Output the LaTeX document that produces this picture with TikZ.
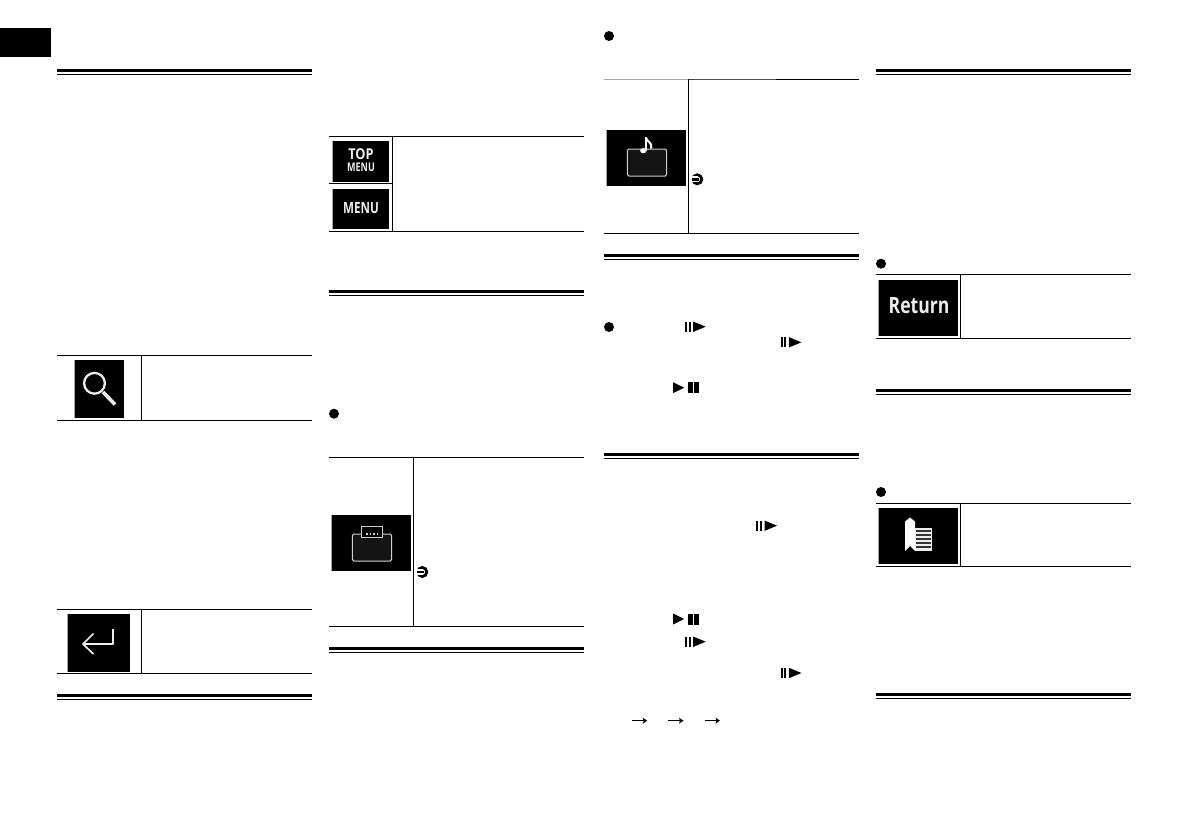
\documentclass[tikz,border=0pt]{standalone}
\usepackage{fontspec}
\setmainfont{Open Sans}
\definecolor{iconline}{gray}{0.82}
\definecolor{iconfill}{gray}{0.08}
\definecolor{icontext}{gray}{0.93}
\tikzset{
  thinrule/.style={line width=1pt,black},
  iconbg/.style={fill=black,draw=none},
  iconedge/.style={draw=gray!70,line width=0.6pt},
  icontxt/.style={text=icontext,inner sep=0pt},
  trayline/.style={draw=iconline,line width=1pt,rounded corners=1.6pt,fill=iconfill},
}
\newcommand{\DoubleRule}[3]{% x1 x2 y(top of thick rule)
  \fill (#1,#3) rectangle (#2,#3+3.2);
  \fill (#1,#3+5) rectangle (#2,#3+6);
}
\newcommand{\IconBox}[4]{% x1 y1 x2 y2
  \fill[iconbg] (#1,#2) rectangle (#3,#4);
  \draw[iconedge] (#1,#2) -- (#1,#4);
}
\newcommand{\Dot}[2]{\fill (#1,#2) circle (5);}
\newcommand{\SkipMark}[2]{% left x, centre y
  \fill (#1,#2-5) rectangle (#1+1.9,#2+5);
  \fill (#1+3.6,#2-5) rectangle (#1+5.6,#2+5);
  \fill (#1+8.2,#2-5.2) -- (#1+20.7,#2) -- (#1+8.2,#2+5.2) -- cycle;
}
\newcommand{\PlayPause}[2]{%
  \fill (#1,#2-5.5) -- (#1+11.2,#2) -- (#1,#2+5.5) -- cycle;
  \fill (#1+15,#2-5.5) rectangle (#1+19.8,#2+5.5);
  \fill (#1+21.2,#2-5.5) rectangle (#1+26,#2+5.5);
}
\newcommand{\SeeMark}[2]{%
  \draw[line width=2.8pt] (#1,#2) circle (4.5);
  \fill[white] (#1-7,#2-2.9) rectangle (#1+0.6,#2+2.9);
  \fill (#1-5.8,#2-1.3) rectangle (#1+1.8,#2+1.3);
}
\newcommand{\SmallArrow}[2]{%
  \draw[line width=1.1pt] (#1,#2) -- (#1+12.5,#2);
  \fill (#1+15.5,#2) -- (#1+11,#2-3) -- (#1+12,#2) -- (#1+11,#2+3) -- cycle;
}
\begin{document}
\begin{tikzpicture}[x=1pt,y=-1pt]
\useasboundingbox (0,0) rectangle (1191,839);
\fill[white] (0,0) rectangle (1191,839);
% page tab
\fill (0,28) rectangle (51,57);
% heading rules
\DoubleRule{57}{312}{69}
\DoubleRule{57}{312}{694}
\DoubleRule{329}{584}{290}
\DoubleRule{329}{584}{647}
\DoubleRule{604}{859}{254}
\DoubleRule{604}{859}{453}
\DoubleRule{876}{1131}{69}
\DoubleRule{876}{1131}{389}
\DoubleRule{876}{1131}{693}
% bullets
\Dot{334}{413.7}
\Dot{609}{36}
\Dot{609}{327}
\Dot{881}{263.7}
\Dot{881}{492}

% table: search
\draw[thinrule] (57,355.3) -- (312,355.3) (57,420.3) -- (312,420.3) (141.3,355.3) -- (141.3,420.3);
\IconBox{74.3}{360}{124}{417.7}
\draw[icontext,line width=2.3pt] (94.5,383.3) circle (10.4);
\draw[icontext,line width=3.6pt] (103,392) -- (115,404.5);

% table: enter
\draw[thinrule] (57,609.3) -- (312,609.3) (57,673) -- (312,673) (141.3,609.3) -- (141.3,673);
\IconBox{67.7}{614}{130.3}{672}
\draw[icontext,line width=1.7pt,line join=round] (113.3,629.3) -- (113.3,644) -- (83,644);
\draw[icontext,line width=1.7pt,line join=round] (93.5,633.5) -- (83,644) -- (93.5,654);

% table: top menu / menu
\draw[thinrule] (329,136.3) -- (584,136.3) (329,231.3) -- (584,231.3) (392.3,136.3) -- (392.3,231.3) (329,183.3) -- (392.3,183.3);
\IconBox{332.3}{141}{389}{182}
\IconBox{332.3}{189}{389}{229}
\node[icontxt,font=\fontsize{15}{16}\selectfont\bfseries,xscale=0.85] (topw) at (361,154) {TOP};
\node[icontxt,font=\fontsize{12}{13}\selectfont\bfseries,xscale=0.75] (menus) at (361,167.7) {MENU};
\node[icontxt,font=\fontsize{15.5}{16}\selectfont\bfseries,xscale=0.75] (menub) at (361,207.7) {MENU};

% table: tray icon
\draw[thinrule] (329,457.3) -- (584,457.3) (329,626.3) -- (584,626.3) (413.3,457.3) -- (413.3,626.3);
\IconBox{331.7}{515}{411}{571}
\draw[trayline] (352.3,534) rectangle (391.7,561);
\draw[draw=iconline,line width=1pt,fill=black] (361,526) rectangle (382.3,537.7);
\foreach \d in {367,370.5,374,377.5} \fill[iconline] (\d-.7,533.2) rectangle (\d+.7,534.8);
\SeeMark{422.3}{572}

% table: music icon
\draw[line width=1pt,black!35] (604,79.3) -- (689,79.3);
\draw[line width=1pt,black!70] (689,79.3) -- (776,79.3);
\draw[thinrule] (776,79.3) -- (859,79.3) (604,233.3) -- (859,233.3) (688.3,79.3) -- (688.3,233.3);
\IconBox{606.7}{130}{686}{186}
\draw[trayline] (627.3,149) rectangle (666.7,176);
\fill[white] (643.3,150.7) ellipse (3.2 and 2.6);
\draw[white,line width=1.9pt] (645.6,150.5) -- (645.6,137.3);
\draw[white,line width=2.2pt] (645.6,137.5) .. controls (647,142) and (652.5,142) .. (651.2,148.5);
\SeeMark{697.3}{179.3}

% table: return
\draw[thinrule] (876,274.3) -- (1131,274.3) (876,338.3) -- (1131,338.3) (960.3,274.3) -- (960.3,338.3);
\IconBox{878.3}{280}{958}{335.7}
\node[icontxt,font=\fontsize{22.5}{23}\selectfont\bfseries,xscale=0.78] (ret) at (919,306) {Return};

% table: bookmark list
\draw[thinrule] (876,503.3) -- (1131,503.3) (876,566.3) -- (1131,566.3) (960.3,503.3) -- (960.3,566.3);
\IconBox{878.3}{508}{958}{563.7}
\fill[white] (905,521.5) -- (910,517.5) -- (915,521.5) -- (915,551) -- (910,546) -- (905,551) -- cycle;
\fill[icontext] (915,527.7) rectangle (932.3,550.7);
\foreach \s in {530.3,534.3,538.3,542.3,546.3} \fill[black!80] (915.5,\s) rectangle (930.5,\s+2);

% player marks
\SkipMark{685}{326.7}
\SkipMark{780.7}{342.3}
\PlayPause{673}{387.7}
\SkipMark{756.3}{525.7}
\PlayPause{673}{619}
\SkipMark{685}{641.7}
\SkipMark{780.7}{673}
\SmallArrow{631.7}{720.7}
\SmallArrow{668}{720.7}
\SmallArrow{704.5}{720.7}
\end{tikzpicture}
\end{document}
